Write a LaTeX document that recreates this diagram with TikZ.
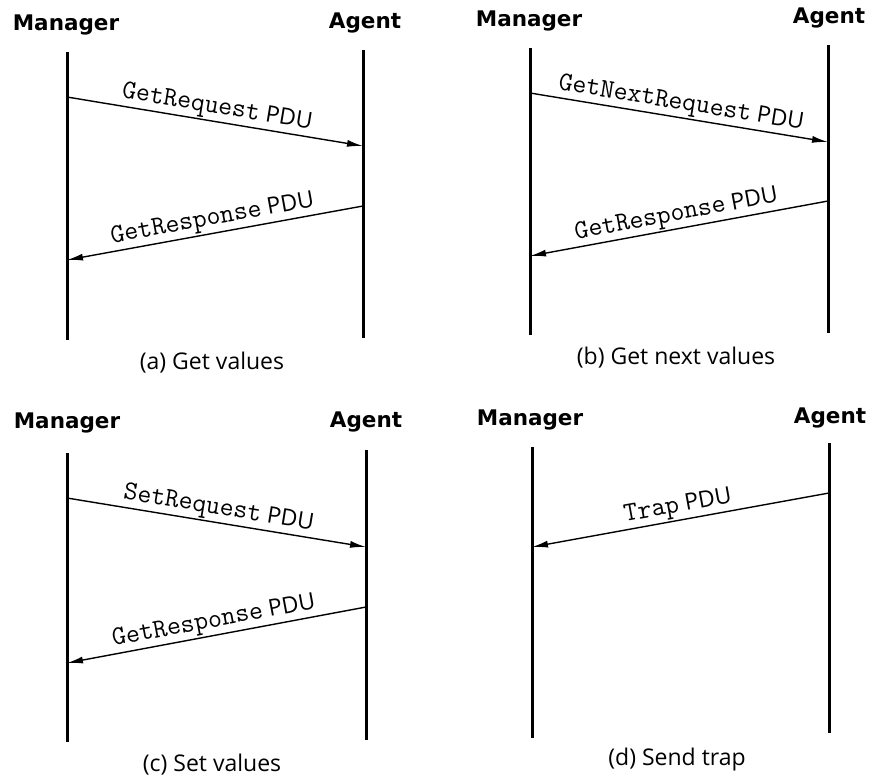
\documentclass[tikz,border=0pt]{standalone}
\usepackage{fontspec}
\setmainfont{Open Sans}
\newfontfamily\heavyfont{DejaVu Sans}
\usetikzlibrary{arrows.meta}

\newcommand{\pduname}[1]{{\ttfamily\fontsize{27}{28}\selectfont #1} PDU}

\begin{document}
\begin{tikzpicture}[x=1pt,y=-1pt,
 party/.style={font=\heavyfont\bfseries\fontsize{21.5}{23}\selectfont},
 subcap/.style={font=\fontsize{23}{26}\selectfont},
 life/.style={line width=3pt},
 msg/.style={-{Latex[length=16pt,width=7pt]},line width=1.4pt},
 lbl/.style={sloped,above,inner sep=1.5pt,font=\fontsize{23}{26}\selectfont}]
\useasboundingbox (0,0) rectangle (869,777);

% (a) Get values
\node[party] (mgrA) at (66,25) {Manager};
\node[party] (agtA) at (365,23) {Agent};
\coordinate (mA1) at (67,52); \coordinate (mA2) at (67,340);
\coordinate (aA1) at (363,50); \coordinate (aA2) at (363,338);
\draw[life] (mA1)--(mA2); \draw[life] (aA1)--(aA2);
\coordinate (mAreq) at (67,97); \coordinate (aAreq) at (363,146);
\coordinate (aAres) at (363,206); \coordinate (mAres) at (67,260);
\draw[msg] (mAreq)--node[lbl]{\pduname{GetRequest}}(aAreq);
\draw[msg] (aAres)--node[lbl]{\pduname{GetResponse}}(mAres);
\node[subcap] (capA) at (212,363) {(a) Get values};

% (b) Get next values
\node[party] (mgrB) at (529,21) {Manager};
\node[party] (agtB) at (829,18) {Agent};
\coordinate (mB1) at (530,48); \coordinate (mB2) at (530,335);
\coordinate (aB1) at (828,45); \coordinate (aB2) at (828,333);
\draw[life] (mB1)--(mB2); \draw[life] (aB1)--(aB2);
\coordinate (mBreq) at (530,93); \coordinate (aBreq) at (828,142);
\coordinate (aBres) at (828,201); \coordinate (mBres) at (530,256);
\draw[msg] (mBreq)--node[lbl]{\pduname{GetNextRequest}}(aBreq);
\draw[msg] (aBres)--node[lbl]{\pduname{GetResponse}}(mBres);
\node[subcap] (capB) at (676,358) {(b) Get next values};

% (c) Set values
\node[party] (mgrC) at (67,423) {Manager};
\node[party] (agtC) at (366,422) {Agent};
\coordinate (mC1) at (67,453); \coordinate (mC2) at (67,742);
\coordinate (aC1) at (366,450); \coordinate (aC2) at (366,740);
\draw[life] (mC1)--(mC2); \draw[life] (aC1)--(aC2);
\coordinate (mCreq) at (67,498); \coordinate (aCreq) at (366,547);
\coordinate (aCres) at (366,607); \coordinate (mCres) at (67,663);
\draw[msg] (mCreq)--node[lbl]{\pduname{SetRequest}}(aCreq);
\draw[msg] (aCres)--node[lbl]{\pduname{GetResponse}}(mCres);
\node[subcap] (capC) at (212,765) {(c) Set values};

% (d) Send trap
\node[party] (mgrD) at (530,420) {Manager};
\node[party] (agtD) at (830,418) {Agent};
\coordinate (mD1) at (532,447); \coordinate (mD2) at (532,738);
\coordinate (aD1) at (829,443); \coordinate (aD2) at (829,733);
\draw[life] (mD1)--(mD2); \draw[life] (aD1)--(aD2);
\coordinate (aDtrap) at (829,493); \coordinate (mDtrap) at (532,547);
\draw[msg] (aDtrap)--node[lbl]{\pduname{Trap}}(mDtrap);
\node[subcap] (capD) at (677,760) {(d) Send trap};
\end{tikzpicture}
\end{document}
